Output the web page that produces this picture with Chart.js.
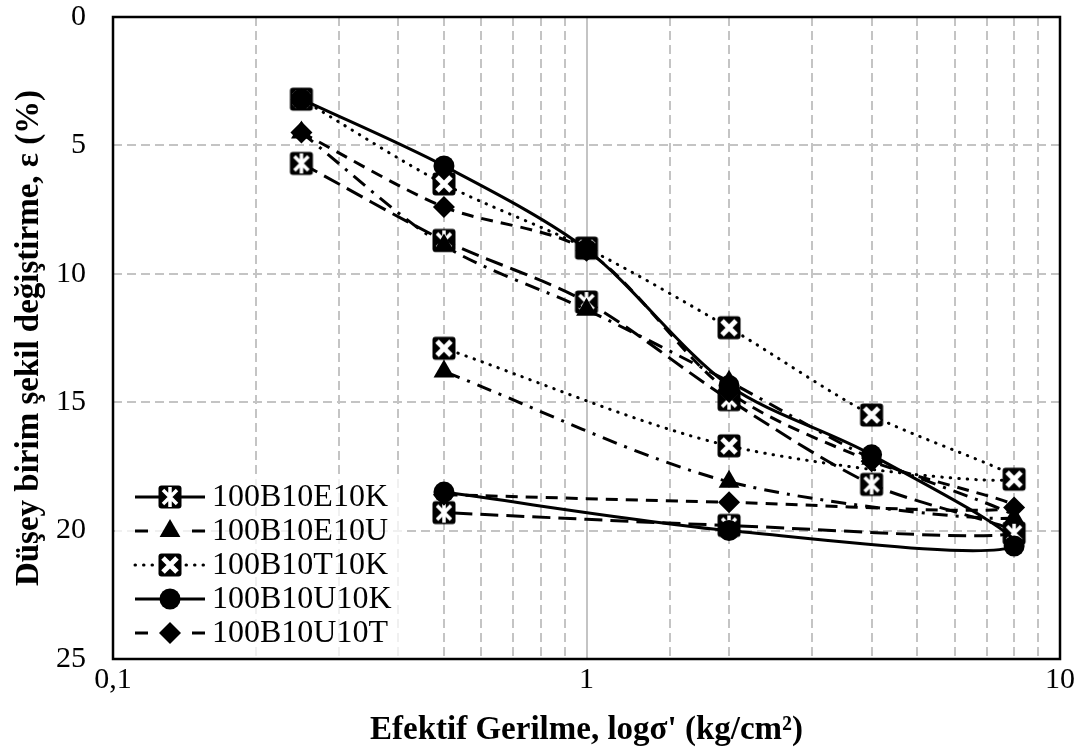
<!DOCTYPE html>
<html>
<head>
<meta charset="utf-8">
<script src="https://cdn.jsdelivr.net/npm/chart.js@4.4.1/dist/chart.umd.min.js"></script>
<style>
  html, body { margin: 0; padding: 0; background: #fff; }
  #wrap { width: 1083px; height: 749px; }
</style>
</head>
<body>
<div id="wrap"><canvas id="myChart" width="1083" height="749"></canvas></div>
<script>
// basınç kademeleri: yükleme 0.25 -> 8, sonra boşaltma 8 -> 0.5
const stress = [0.25, 0.5, 1, 2, 4, 8, 2, 0.5];

const seriesNames = ['100B10E10K', '100B10E10U', '100B10T10K', '100B10U10K', '100B10U10T'];
const e10k = [5.7, 8.7, 11.1, 14.9, 18.2, 20.1, 19.8, 19.3];
const e10u = [4.5, 8.9, 11.4, 14.2, 17.2, 19.5, 18.1, 13.8];
const t10k = [3.2, 6.5, 9.0, 12.1, 15.5, 18.0, 16.7, 12.9];
const u10k = [3.2, 5.8, 9.05, 14.35, 17.05, 20.6, 20.0, 18.5];
const u10t = [4.5, 7.4, 9.1, 14.6, 17.3, 19.1, 18.9, 18.6];

const xLabelValues = [0.1, 1, 10];
const xLabelTexts = ['0,1', '1', '10'];
const yTicks = [0, 5, 10, 15, 20, 25];

const serif = "'Liberation Serif', 'Times New Roman', serif";
Chart.defaults.font.family = serif;
Chart.defaults.color = '#000';

// kutu içinde beyaz çarpı (ve yıldız) işaretleri
function boxMarker(star) {
  const s = 26, c = document.createElement('canvas');
  c.width = s; c.height = s;
  const g = c.getContext('2d');
  const m = s / 2, h = 11.5, r = 3;
  g.fillStyle = '#000';
  g.beginPath();
  g.moveTo(m - h + r, m - h);
  g.lineTo(m + h - r, m - h); g.quadraticCurveTo(m + h, m - h, m + h, m - h + r);
  g.lineTo(m + h, m + h - r); g.quadraticCurveTo(m + h, m + h, m + h - r, m + h);
  g.lineTo(m - h + r, m + h); g.quadraticCurveTo(m - h, m + h, m - h, m + h - r);
  g.lineTo(m - h, m - h + r); g.quadraticCurveTo(m - h, m - h, m - h + r, m - h);
  g.fill();
  g.strokeStyle = '#fff';
  g.lineWidth = star ? 3.5 : 5;
  const d = 7;
  g.beginPath();
  g.moveTo(m - d, m - d); g.lineTo(m + d, m + d);
  g.moveTo(m + d, m - d); g.lineTo(m - d, m + d);
  if (star) { g.moveTo(m, m - h + 1.5); g.lineTo(m, m + h - 1.5); }
  g.stroke();
  return c;
}
const starBox = boxMarker(true);
const crossBox = boxMarker(false);

const styles = [
  { values: e10k, dash: [18, 8], point: starBox, radius: 12, legendDash: 'solid', order: 5 },
  { values: e10u, dash: [15, 8, 3, 8], point: 'triangle', radius: 12, legendDash: 'split', order: 4 },
  { values: t10k, dash: [0.5, 8], point: crossBox, radius: 12, legendDash: 'dot', order: 3, cap: 'round' },
  { values: u10k, dash: [], point: 'circle', radius: 10.5, legendDash: 'solid', order: 2 },
  { values: u10t, dash: [12, 8], point: 'rectRot', radius: 11, legendDash: 'split', order: 1 }
];

const datasets = styles.map((st, i) => ({
  label: seriesNames[i],
  data: stress.map((x, j) => ({ x: x, y: st.values[j] })),
  showLine: true,
  borderColor: '#000',
  backgroundColor: '#000',
  borderWidth: 3,
  borderDash: st.dash,
  borderCapStyle: st.cap || 'butt',
  tension: 0.3,
  pointStyle: st.point,
  pointRadius: st.radius,
  pointBorderWidth: 0,
  pointBackgroundColor: '#000',
  order: st.order
}));

// grafik çerçevesi
const frame = {
  id: 'frame',
  afterDraw(chart) {
    const { ctx, chartArea: a } = chart;
    ctx.save();
    ctx.strokeStyle = '#000';
    ctx.lineWidth = 2.5;
    ctx.strokeRect(a.left, a.top, a.right - a.left, a.bottom - a.top);
    ctx.restore();
  }
};

// sol alttaki açıklama kutusu
const legendBox = {
  id: 'legendBox',
  afterDatasetsDraw(chart) {
    const { ctx, chartArea: a } = chart;
    const x0 = a.left + 22, x1 = a.left + 92, mx = a.left + 57;
    ctx.save();
    ctx.fillStyle = 'rgba(255,255,255,0.75)';
    ctx.fillRect(a.left + 2, a.bottom - 182, 288, 180);
    styles.forEach((st, i) => {
      const y = a.bottom - 162 + i * 34;
      ctx.strokeStyle = '#000';
      ctx.lineWidth = 3;
      ctx.beginPath();
      if (st.legendDash === 'solid') {
        ctx.moveTo(x0, y); ctx.lineTo(x1, y);
      } else if (st.legendDash === 'split') {
        ctx.moveTo(x0, y); ctx.lineTo(x0 + 13, y);
        ctx.moveTo(x1 - 13, y); ctx.lineTo(x1, y);
      } else {
        ctx.setLineDash([0.5, 8]);
        ctx.lineCap = 'round';
        ctx.moveTo(x0, y); ctx.lineTo(x1, y);
      }
      ctx.stroke();
      ctx.setLineDash([]);
      ctx.lineCap = 'butt';
      ctx.fillStyle = '#000';
      Chart.helpers.drawPoint(ctx, { pointStyle: st.point, radius: st.radius, rotation: 0, borderWidth: 0 }, mx, y);
      ctx.fillStyle = '#000';
      ctx.font = '32px ' + serif;
      ctx.textBaseline = 'middle';
      ctx.textAlign = 'left';
      ctx.fillText(seriesNames[i], a.left + 99, y + 1);
    });
    ctx.restore();
  }
};

const canvas = document.getElementById('myChart');
new Chart(canvas, {
  type: 'scatter',
  data: { datasets: datasets },
  options: {
    responsive: false,
    animation: false,
    devicePixelRatio: 1,
    layout: { padding: { top: 17, right: 23, left: 0, bottom: 0 } },
    plugins: { legend: { display: false }, tooltip: { enabled: false } },
    scales: {
      x: {
        type: 'logarithmic',
        min: 0.1,
        max: 10,
        afterFit(s) { s.height = 90; s.paddingLeft = 0; s.paddingRight = 0; },
        grid: { color: '#c4c4c4', lineWidth: 2, drawTicks: false },
        border: {
          display: false,
          dash: ctx => (ctx.tick && Math.abs(ctx.tick.value - 1) < 1e-9) ? [] : [9, 5]
        },
        ticks: {
          autoSkip: false,
          maxRotation: 0,
          padding: 3,
          font: { size: 30 },
          callback: v => {
            const k = xLabelValues.findIndex(t => Math.abs(t - v) < 1e-9);
            return k >= 0 ? xLabelTexts[k] : '';
          }
        },
        title: {
          display: true,
          text: "Efektif Gerilme, logσ' (kg/cm²)",
          font: { size: 33, weight: 'bold', lineHeight: 1 },
          padding: { top: 0, bottom: 2 }
        }
      },
      y: {
        min: 0,
        max: 25,
        reverse: true,
        afterFit(s) { s.width = 113; s.paddingTop = 0; s.paddingBottom = 0; },
        afterBuildTicks(s) { s.ticks = yTicks.map(v => ({ value: v })); },
        grid: { color: '#c4c4c4', lineWidth: 2, drawTicks: false },
        border: { display: false, dash: [9, 5] },
        ticks: { padding: 27, font: { size: 30 } },
        title: {
          display: true,
          text: 'Düşey birim şekil değiştirme, ε (%)',
          font: { size: 33, weight: 'bold', lineHeight: 1 },
          padding: { top: 13, bottom: 0 }
        }
      }
    }
  },
  plugins: [legendBox, frame]
});
</script>
</body>
</html>
